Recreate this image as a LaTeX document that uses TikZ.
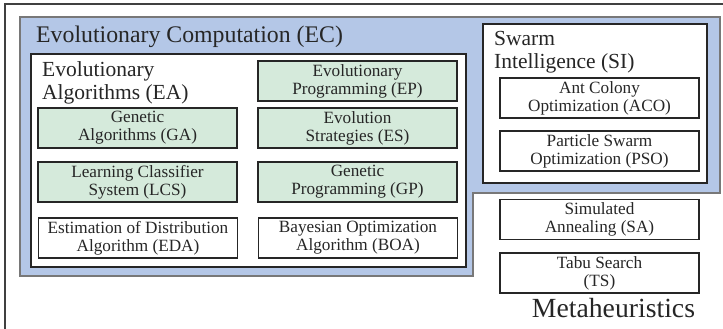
\documentclass[tikz,border=0pt]{standalone}
\usepackage{fontspec}
\setmainfont{Liberation Serif}
\definecolor{ecblue}{RGB}{180,199,231}
\definecolor{boxgreen}{RGB}{213,234,219}
\definecolor{ecborder}{RGB}{120,120,120}
\begin{document}
\begin{tikzpicture}[x=1pt,y=-1pt,
  algbox/.style={draw=black!85, line width=1.3pt, minimum width=199pt, minimum height=40pt,
    inner sep=0pt, align=center, font=\fontsize{17.2}{18}\selectfont, text=black!85},
  gbox/.style={algbox, fill=boxgreen},
  wbox/.style={algbox, fill=white},
  grouptitle/.style={anchor=north west, inner sep=0pt, align=left, text=black!85,
    font=\fontsize{21.5}{23}\selectfont}]
\useasboundingbox (0,0) rectangle (723,329);
% outer metaheuristics frame
\draw[line width=1.4pt, black!75] (723,4) -- (5,4) -- (5,329);
% evolutionary computation region
\draw[ecborder, line width=1.6pt, fill=ecblue]
  (20,17) -- (720,17) -- (720,193) -- (473,193) -- (473,276) -- (20,276) -- cycle;
\node[anchor=base west, inner sep=0pt, text=black!85, font=\fontsize{23.8}{26}\selectfont]
  (ec) at (36,43) {Evolutionary Computation (EC)};
% EA box
\draw[black!85, line width=1.4pt, fill=white] (31,54) rectangle (466,267);
\node[grouptitle] (ea) at (42,61) {Evolutionary\\Algorithms (EA)};
% SI box
\draw[black!85, line width=1.4pt, fill=white] (483,24) rectangle (707,183);
\node[grouptitle] (si) at (494,31) {Swarm\\Intelligence (SI)};
% algorithm boxes
\node[gbox] (ep) at (357.5,81) {Evolutionary\\Programming (EP)};
\node[gbox] (ga) at (137.5,128) {Genetic\\Algorithms (GA)};
\node[gbox] (es) at (357.5,128) {Evolution\\Strategies (ES)};
\node[gbox] (lcs) at (137.5,182) {Learning Classifier\\System (LCS)};
\node[gbox] (gp) at (357.5,182) {Genetic\\Programming (GP)};
\node[wbox] (eda) at (138,238) {Estimation of Distribution\\Algorithm (EDA)};
\node[wbox] (boa) at (358,238) {Bayesian Optimization\\Algorithm (BOA)};
\node[wbox] (aco) at (599.5,98) {Ant Colony\\Optimization (ACO)};
\node[wbox] (pso) at (599.5,151) {Particle Swarm\\Optimization (PSO)};
\node[wbox] (sa) at (599.5,219.5) {Simulated\\Annealing (SA)};
\node[wbox] (ts) at (599.5,273) {Tabu Search\\(TS)};
\node[anchor=base, inner sep=0pt, text=black!85, font=\fontsize{27.7}{30}\selectfont]
  (mh) at (613.5,317) {Metaheuristics};
\end{tikzpicture}
\end{document}
